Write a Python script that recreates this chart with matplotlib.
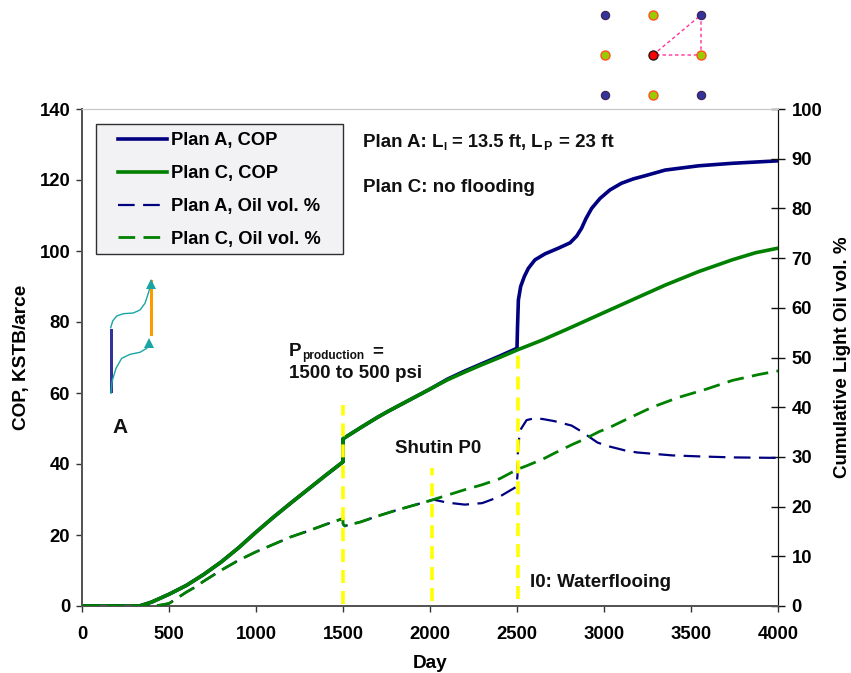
import matplotlib
matplotlib.use("Agg")
import matplotlib.pyplot as plt
from matplotlib.patches import Rectangle

plt.rcParams['font.family'] = ['Liberation Sans', 'DejaVu Sans']
plt.rcParams['font.weight'] = 'bold'

# COP, left axis
day_cop_a = [0, 330, 400, 500, 600, 700, 800, 900, 1000, 1100, 1200, 1300, 1400, 1500, 1500, 1600, 1700, 1758, 1800, 1900, 2000,
             2100, 2200, 2300, 2400, 2500, 2503, 2508, 2521, 2542, 2565, 2603, 2661, 2738, 2805, 2843, 2871, 2897, 2929, 2977,
             3034, 3101, 3168, 3236, 3352, 3544, 3736, 4000]
cop_a = [0, 0, 1.1, 3.3, 5.8, 8.9, 12.4, 16.4, 20.8, 25, 29, 32.9, 36.8, 40.6, 47.1, 50.2, 53.2, 54.8, 55.9, 58.5, 61.1,
         63.9, 66.2, 68.3, 70.4, 72.6, 78.7, 86.2, 90, 92.8, 95.1, 97.5, 99.2, 100.8, 102.3, 104.2, 106.4, 109.2, 112, 114.8,
         117.2, 119.1, 120.3, 121.2, 122.8, 124, 124.7, 125.4]
day_cop_c = [0, 330, 400, 500, 600, 700, 800, 900, 1000, 1100, 1200, 1300, 1400, 1500, 1500, 1600, 1700, 1758, 1800, 1900, 2000,
             2100, 2200, 2300, 2400, 2500, 2645, 2798, 2970, 3161, 3352, 3544, 3736, 3870, 4000]
cop_c = [0, 0, 1.1, 3.3, 5.8, 8.9, 12.4, 16.4, 20.8, 25, 29, 32.9, 36.8, 40.6, 47.1, 50.2, 53.2, 54.8, 55.9, 58.5, 61.1,
         63.7, 65.9, 68, 70, 72.1, 74.9, 78.2, 82, 86.2, 90.4, 94.2, 97.5, 99.5, 100.8]

# oil volume %, right axis
day_oil_a = [0, 420, 500, 600, 650, 700, 800, 900, 1000, 1100, 1200, 1300, 1400, 1500, 1500, 1510, 1600, 1700, 1800, 1900, 2000,
             2020, 2100, 2200, 2300, 2400, 2497, 2503, 2503, 2507, 2517, 2555, 2603, 2651, 2714, 2814, 2871, 2962, 3019, 3121,
             3188, 3393, 3547, 3739, 4000]
oil_a = [0, 0, 0.5, 2.8, 3.8, 5, 7.2, 9.2, 10.9, 12.4, 13.9, 15.1, 16.4, 17.6, 16.5, 16.1, 16.9, 18.1, 19.2, 20.2, 21.2,
         21.4, 20.8, 20.4, 20.7, 22, 24, 26.4, 29.5, 32, 35.3, 37.4, 37.8, 37.6, 37.2, 36.3, 35.1, 32.9, 32.2, 31.3,
         30.9, 30.3, 30.1, 29.9, 29.8]
day_oil_c = [0, 420, 500, 600, 650, 700, 800, 900, 1000, 1100, 1200, 1300, 1400, 1500, 1500, 1510, 1600, 1700, 1800, 1900, 2000,
             2100, 2200, 2300, 2400, 2503, 2555, 2657, 2718, 2818, 2877, 2973, 3031, 3131, 3277, 3431, 3585, 3739, 3893, 4000]
oil_c = [0, 0, 0.5, 2.8, 3.8, 5, 7.2, 9.2, 10.9, 12.4, 13.9, 15.1, 16.4, 17.6, 16.5, 16.1, 16.9, 18.1, 19.2, 20.2, 21.2,
         22.3, 23.4, 24.4, 25.6, 27.5, 28.2, 29.7, 30.8, 32.5, 33.4, 35.1, 35.9, 37.6, 40, 42, 43.6, 45.4, 46.6, 47.3]

# yellow event lines (day, bottom and top on left axis)
event_days = [1500, 2010, 2505]
event_bottoms = [0.5, 1.5, 2]
event_tops = [56.5, 39, 71]

labels = ['Plan A, COP', 'Plan C, COP', 'Plan A, Oil vol. %', 'Plan C, Oil vol. %']

W, H = 851, 673
fig = plt.figure(figsize=(W / 100, H / 100), dpi=100)
ax = fig.add_axes([82 / W, 1 - 606 / H, 696 / W, 497 / H])
ax2 = ax.twinx()

ax.set_zorder(2)
ax2.set_zorder(3)
ax.patch.set_visible(False)
ax2.patch.set_visible(False)

l1, = ax.plot(day_cop_a, cop_a, color='#000080', lw=2.6, zorder=3)
l2, = ax.plot(day_cop_c, cop_c, color='#008000', lw=2.6, zorder=4)
l3, = ax2.plot(day_oil_a, oil_a, color='#000080', lw=1.6, dashes=(7.5, 3.8), zorder=3)
l4, = ax2.plot(day_oil_c, oil_c, color='#008000', lw=2, dashes=(6, 3), zorder=4)

for d, b, t in zip(event_days, event_bottoms, event_tops):
    ax2.plot([d, d], [b / 1.4, t / 1.4], color='#ffff00', lw=2.6, dashes=(3.6, 2.2), zorder=5)

ax.set_xlim(0, 4000)
ax.set_ylim(0, 140)
ax2.set_ylim(0, 100)
ax.set_xticks(range(0, 4001, 500))
ax.set_yticks(range(0, 141, 20))
ax2.set_yticks(range(0, 101, 10))
ax.tick_params(axis='x', labelsize=13.3, width=1, length=4.5, direction='out', pad=10, color='#333333')
ax.tick_params(axis='y', labelsize=13.3, width=1, length=4.5, direction='out', pad=4, color='#333333')
ax2.tick_params(axis='y', labelsize=13.3, width=1, length=9.6, direction='inout', pad=5, color='#111111')
ax.set_xlabel('Day', fontsize=13.7, fontweight='bold', labelpad=8.5)
ax.set_ylabel('COP, KSTB/arce', fontsize=13.7, fontweight='bold', labelpad=6.5)
ax2.set_ylabel('Cumulative Light Oil vol. %', fontsize=13.5, fontweight='bold', labelpad=8.5)

for a in (ax, ax2):
    a.spines['top'].set_color('#c8c8c8')
    a.spines['left'].set_color('#555555')
    a.spines['left'].set_linewidth(1.4)
    a.spines['right'].set_color('#111111')
    a.spines['bottom'].set_color('#555555')
    a.spines['bottom'].set_linewidth(1.4)

# overlay in pixel coordinates for legend box, text and sketches
ov = fig.add_axes([0, 0, 1, 1], zorder=5)
ov.set_xlim(0, W)
ov.set_ylim(H, 0)
ov.axis('off')

ov.add_patch(Rectangle((95.5, 123.5), 247, 130.5, facecolor='#f2f2f5', edgecolor='#303030', lw=1, zorder=1))
leg = ov.legend([l1, l2, l3, l4], labels, loc='upper left', bbox_transform=ov.transData, bbox_to_anchor=(118, 132.5),
                borderaxespad=0, borderpad=0, frameon=False, fontsize=13.2, handlelength=2.65, handletextpad=0.25,
                labelspacing=0.86)
leg.set_zorder(6)


def label(x, y, s, size=13.5):
    ov.text(x, y, s, fontsize=size, fontweight='bold', va='baseline', ha='left', color='#111111')


label(363, 147, 'Plan A: L')
label(443.5, 150, 'I', size=8)
label(451.5, 147, '= 13.5 ft,', size=13.2)
label(531, 147, 'L')
label(543, 150, 'P', size=9)
label(559, 147, '= 23 ft')
label(363, 191.5, 'Plan C: no flooding')
label(289, 356, 'P')
label(302, 359, 'production', size=8.6)
label(372, 356, '=')
label(289, 378, '1500 to 500 psi')
label(395, 453, 'Shutin P0')
label(530, 587, 'I0: Waterflooing')
label(112, 433, 'A', size=15)

# well sketch
ov.add_patch(Rectangle((110, 329), 3, 64, color='#333399', lw=0))
ov.add_patch(Rectangle((149.5, 280), 3.7, 56, color='#ff9900', lw=0))
curve_x = [110.7, 112.7, 116.7, 123.3, 133.3, 140, 145, 148.3, 150.7]
curve_y = [327.7, 321, 316, 313.7, 313, 310, 303.3, 293.3, 285]
curve2_x = [111, 112, 116, 121.7, 130, 140, 146.7, 150]
curve2_y = [393.3, 381.7, 368.3, 358.3, 354.3, 352.3, 348.3, 343.3]
ov.plot(curve_x, curve_y, color='#1aa5a5', lw=1)
ov.plot(curve2_x, curve2_y, color='#1aa5a5', lw=1)
ov.plot([151], [284], marker='^', ms=6.5, color='#1aa5a5', mew=0)
ov.plot([149], [343], marker='^', ms=6.5, color='#1aa5a5', mew=0)

# well pattern at the top
blue_x = [605, 701, 605, 701]
blue_y = [15, 15, 95, 95]
green_x = [653, 605, 701, 653]
green_y = [15, 55, 55, 95]
ov.plot([653, 701, 701, 653], [55, 15, 55, 55], color='#ff3399', lw=1, dashes=(2.5, 2))
ov.plot(blue_x, blue_y, ls='none', marker='o', ms=6, mfc='#333399', mec='#402050', mew=0.8)
ov.plot(green_x, green_y, ls='none', marker='o', ms=6.5, mfc='#99cc00', mec='#ff5020', mew=1)
ov.plot([653], [55], marker='o', ms=6.5, mfc='#ff0000', mec='#301010', mew=1)

fig.savefig('out.png', dpi=100)
